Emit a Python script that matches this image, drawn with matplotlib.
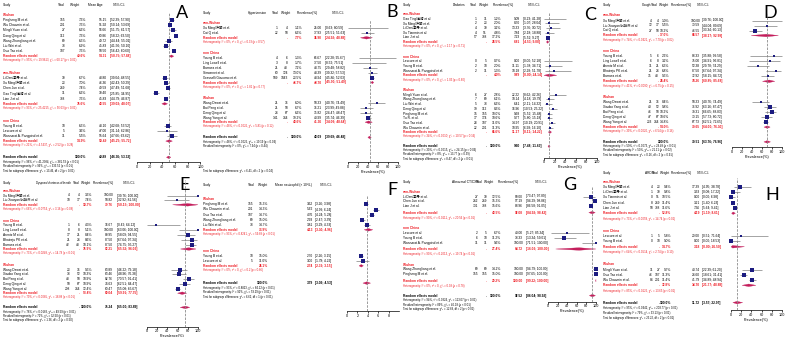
import matplotlib.pyplot as plt
from matplotlib.patches import Polygon

plt.rcParams['font.family'] = ['Liberation Sans', 'Noto Sans CJK SC', 'DejaVu Sans']

# ---- data: (study, events, total, weight %, estimate, lower, upper) ----
# A: mean age
A_GROUPS = ["Wuhan", "non-Wuhan", "non China"]
A_STUDIES = [
    [("Pingheng M et al.", None, 155, 7.3, 55.15, 52.39, 57.90),
     ("Wu Chaomin et al.", None, 201, 7.5, 51.92, 50.14, 53.69),
     ("Mingli Yuan et al.", None, 27, 6.6, 56.66, 51.75, 61.57),
     ("Dong Qing et al.", None, 112, 7.3, 60.86, 58.22, 63.50),
     ("Wang Zhongliang et al.", None, 69, 6.5, 49.72, 44.44, 55.01),
     ("Liu Wei et al.", None, 78, 6.9, 45.83, 41.56, 50.10),
     ("Guo Tao et al.", None, 187, 7.5, 58.50, 56.42, 60.60)],
    [("Li Dan/李丹 et al.", None, 30, 6.7, 43.80, 39.04, 48.55),
     ("Xu Ming/许明 et al.", None, 23, 7.0, 46.36, 42.43, 50.29),
     ("Chen Jun et al.", None, 249, 7.4, 49.59, 47.49, 51.68),
     ("Gao Ting/高婷 et al.", None, 11, 6.6, 30.40, 25.85, 34.95),
     ("Lian J et al.", None, 788, 7.5, 45.83, 44.79, 46.87)],
    [("Young B et al.", None, 18, 6.5, 48.10, 42.68, 53.52),
     ("Lescure et al.", None, 5, 3.6, 47.00, 31.14, 62.86),
     ("Wannarat A. Pongpirul et al.", None, 11, 5.5, 55.64, 47.66, 63.62)],
]
A_POOLED = [(49.6, 54.31, 50.75, 57.88), (35.6, 43.55, 39.03, 48.07), (14.9, 50.49, 45.25, 55.72)]
A_HET = ["Heterogeneity: I² = 95%, τ² = 19.9613, χ²₆ = 60.17 (p < 0.01)",
         "Heterogeneity: I² = 93%, τ² = 25.4215, χ²₄ = 56.63 (p < 0.01)",
         "Heterogeneity: I² = 21%, τ² = 4.5437, χ²₂ = 2.52 (p = 0.28)"]
A_OVERALL = (100.0, 49.89, 46.36, 53.33)
A_FOOT = ["Heterogeneity: I² = 96%, τ² = 41.2384, χ²₁₆ = 381.53 (p < 0.01)",
          "Residual heterogeneity: I² = 96%, χ²₁₄ = 333.52 (p < 0.01)",
          "Test for subgroup differences: χ²₂ = 13.46, df = 2 (p < 0.01)"]

# B: hypertension
B_GROUPS = ["non-Wuhan", "non China", "Wuhan"]
B_STUDIES = [
    [("Xu Ming/许明 et al.", 1, 4, 1.1, 25.00, 0.63, 80.59),
     ("Cai Q et al.", 22, 58, 6.6, 37.93, 25.51, 51.63)],
    [("Young B et al.", 4, 6, 1.3, 66.67, 22.28, 95.67),
     ("Ling Lowell et al.", 3, 8, 1.7, 37.50, 8.52, 75.51),
     ("Barrasa et al.", 21, 48, 7.2, 43.75, 29.48, 58.82),
     ("Simonnet et al.", 60, 124, 13.0, 48.39, 39.32, 57.53),
     ("Grasselli Giacomo et al.", 509, 1043, 23.5, 48.94, 45.86, 52.03)],
    [("Wang Dawei et al.", 21, 36, 6.0, 58.33, 40.76, 74.49),
     ("Bai Peng et al.", 21, 58, 6.7, 36.21, 23.99, 49.88),
     ("Deng Qing et al.", 24, 67, 6.6, 35.82, 24.47, 48.47),
     ("Wang Yang et al.", 141, 344, 19.2, 40.99, 35.74, 46.39)],
]
B_POOLED = [(7.7, 36.90, 24.92, 48.88), (46.7, 48.70, 45.90, 51.49), (43.6, 41.36, 34.09, 48.64)]
B_HET = ["Heterogeneity: I² = 0%, τ² = 0, χ²₁ = 0.33 (p = 0.57)",
         "Heterogeneity: I² = 0%, τ² = 0, χ²₄ = 1.81 (p = 0.77)",
         "Heterogeneity: I² = 48%, τ² = 0.0026, χ²₃ = 5.81 (p = 0.12)"]
B_OVERALL = (100.0, 43.09, 39.69, 46.48)
B_FOOT = ["Heterogeneity: I² = 48%, τ² = 0.0025, χ²₁₀ = 19.19 (p = 0.04)",
          "Residual heterogeneity: I² = 0%, χ²₈ = 7.94 (p = 0.44)",
          "Test for subgroup differences: χ²₂ = 6.41, df = 2 (p = 0.04)"]

# C: diabetes
C_GROUPS = ["non-Wuhan", "non China", "Wuhan"]
C_STUDIES = [
    [("Gao Ting/高婷 et al.", 1, 11, 1.2, 9.09, 0.23, 41.28),
     ("Xu Ming/许明 et al.", 2, 23, 2.0, 8.70, 1.07, 28.04),
     ("Li Dan/李丹 et al.", 4, 30, 3.2, 13.33, 3.76, 30.72),
     ("Xu Tianmin et al.", 4, 51, 4.8, 7.84, 2.18, 18.88),
     ("Lian J et al.", 57, 788, 17.2, 7.23, 5.52, 9.27)],
    [("Lescure et al.", 0, 5, 0.7, 0.00, 0.00, 52.18),
     ("Young B et al.", 2, 18, 2.0, 11.11, 1.38, 34.71),
     ("Wannarat A. Pongpirul et al.", 2, 11, 1.3, 18.18, 2.28, 51.78)],
    [("Mingli Yuan et al.", 6, 27, 2.8, 22.22, 8.62, 42.26),
     ("Wang Zhongliang et al.", 7, 69, 6.1, 10.14, 4.18, 19.79),
     ("Liu Wei et al.", 5, 78, 6.6, 6.41, 2.11, 14.32),
     ("Deng Qing et al.", 19, 112, 8.3, 16.96, 10.53, 25.22),
     ("Pingheng M et al.", 15, 155, 10.0, 9.68, 5.52, 15.48),
     ("Tu R. et al.", 17, 174, 10.6, 9.77, 5.80, 15.18),
     ("Guo Tao et al.", 28, 187, 11.0, 14.97, 10.19, 20.91),
     ("Wu Chaomin et al.", 22, 201, 11.3, 10.95, 6.98, 16.10)],
]
C_POOLED = [(28.5, 6.81, 4.53, 9.08), (4.0, 9.89, 0.00, 24.14), (66.6, 11.17, 8.11, 14.22)]
C_HET = ["Heterogeneity: I² = 0%, τ² = 0, χ²₄ = 2.17 (p = 0.71)",
         "Heterogeneity: I² = 0%, τ² = 0, χ²₂ = 1.03 (p = 0.60)",
         "Heterogeneity: I² = 34%, τ² = 0.0010, χ²₇ = 10.57 (p = 0.16)"]
C_OVERALL = (100.0, 9.60, 7.48, 11.63)
C_FOOT = ["Heterogeneity: I² = 30%, τ² = 0.0015, χ²₁₅ = 24.15 (p = 0.06)",
          "Residual heterogeneity: I² = 8%, χ²₁₃ = 13.77 (p = 0.39)",
          "Test for subgroup differences: χ²₂ = 8.47, df = 2 (p = 0.01)"]

# D: cough
D_GROUPS = ["non-Wuhan", "non China", "Wuhan"]
D_STUDIES = [
    [("Xu Ming/许明 et al.", 4, 4, 1.0, 100.00, 39.76, 100.00),
     ("Liu Xiaoyan/刘晓燕 et al.", 12, 17, 5.5, 70.59, 44.04, 89.69),
     ("Cai Q et al.", 27, 58, 10.2, 46.55, 33.34, 60.13)],
    [("Young B et al.", 5, 6, 2.6, 83.33, 35.88, 99.58),
     ("Ling Lowell et al.", 6, 8, 3.2, 75.00, 34.91, 96.81),
     ("Arentz M et al.", 11, 21, 6.3, 52.38, 29.78, 74.29),
     ("Bhatraju PK et al.", 21, 24, 6.8, 87.50, 67.64, 97.34),
     ("Barrasa et al.", 35, 48, 9.5, 72.92, 58.15, 84.72)],
    [("Wang Dawei et al.", 21, 36, 8.4, 58.33, 40.76, 74.49),
     ("Xiaobo Yang et al.", 40, 52, 9.8, 76.92, 63.16, 87.47),
     ("Bai Peng et al.", 46, 58, 10.2, 79.31, 66.65, 88.83),
     ("Deng Qing et al.", 47, 67, 10.6, 70.15, 57.73, 80.72),
     ("Wang Yang et al.", 233, 344, 14.8, 67.73, 62.51, 72.65)],
]
D_POOLED = [(17.0, 68.57, 38.17, 92.99), (28.4, 74.26, 60.85, 85.68), (54.0, 70.65, 64.00, 76.30)]
D_HET = ["Heterogeneity: I² = 74%, τ² = 0.0421, χ²₂ = 7.70 (p = 0.02)",
         "Heterogeneity: I² = 41%, τ² = 0.0090, χ²₄ = 6.75 (p = 0.15)",
         "Heterogeneity: I² = 39%, τ² = 0.0020, χ²₄ = 6.54 (p = 0.16)"]
D_OVERALL = (100.0, 70.51, 63.76, 76.96)
D_FOOT = ["Heterogeneity: I² = 59%, τ² = 0.0073, χ²₁₂ = 29.49 (p < 0.01)",
          "Residual heterogeneity: I² = 50%, χ²₁₀ = 21.11 (p = 0.02)",
          "Test for subgroup differences: χ²₂ = 0.16, df = 2 (p = 0.91)"]

# E: dyspnea
E_GROUPS = ["non-Wuhan", "non China", "Wuhan"]
E_STUDIES = [
    [("Xu Ming/许明 et al.", 4, 4, 3.3, 100.00, 39.76, 100.00),
     ("Liu Xiaoyan/刘晓燕 et al.", 10, 17, 7.4, 58.82, 32.92, 81.56)],
    [("Young B et al.", 1, 6, 4.3, 16.67, 0.42, 64.12),
     ("Ling Lowell et al.", 8, 8, 5.1, 100.00, 63.06, 100.00),
     ("Arentz M et al.", 17, 21, 8.4, 80.95, 58.09, 94.55),
     ("Bhatraju PK et al.", 21, 24, 8.6, 87.50, 67.64, 97.34),
     ("Barrasa et al.", 42, 48, 10.1, 87.50, 74.75, 95.27)],
    [("Wang Dawei et al.", 23, 36, 9.5, 63.89, 46.22, 79.18),
     ("Xiaobo Yang et al.", 33, 52, 10.3, 63.46, 48.96, 76.38),
     ("Bai Peng et al.", 48, 58, 10.9, 82.76, 70.57, 91.41),
     ("Deng Qing et al.", 50, 67, 10.9, 74.63, 62.51, 84.47),
     ("Wang Yang et al.", 208, 344, 12.4, 60.47, 55.08, 65.67)],
]
E_POOLED = [(10.7, 79.76, 50.15, 100.00), (35.9, 82.21, 65.52, 96.03), (53.4, 69.04, 59.91, 77.75)]
E_HET = ["Heterogeneity: I² = 66%, τ² = 0.0754, χ²₁ = 3.16 (p = 0.08)",
         "Heterogeneity: I² = 73%, τ² = 0.0249, χ²₄ = 14.78 (p < 0.01)",
         "Heterogeneity: I² = 79%, τ² = 0.0065, χ²₄ = 18.88 (p < 0.01)"]
E_OVERALL = (100.0, 75.24, 65.00, 83.89)
E_FOOT = ["Heterogeneity: I² = 78%, τ² = 0.0183, χ²₁₁ = 49.59 (p < 0.01)",
          "Residual heterogeneity: I² = 72%, χ²₉ = 32.50 (p < 0.01)",
          "Test for subgroup differences: χ²₂ = 1.36, df = 2 (p = 0.50)"]

# F: neutrophil
F_GROUPS = ["Wuhan", "non China"]
F_STUDIES = [
    [("Pingheng M et al.", None, 155, 15.3, 3.62, 3.26, 3.98),
     ("Wu Chaomin et al.", None, 201, 14.3, 5.62, 4.99, 6.24),
     ("Guo Tao et al.", None, 187, 14.7, 4.76, 4.24, 5.28),
     ("Wang Zhongliang et al.", None, 69, 15.0, 2.93, 2.47, 3.39),
     ("Liu Wei et al.", None, 78, 14.7, 3.81, 3.29, 4.33)],
    [("Young B et al.", None, 18, 15.0, 2.70, 2.26, 3.15),
     ("Lescure et al.", None, 5, 11.0, 3.00, 1.78, 4.22)],
]
F_POOLED = [(73.9, 4.13, 3.30, 4.96), (26.1, 2.74, 2.32, 3.15)]
F_HET = ["Heterogeneity: I² = 93%, τ² = 0.8241, χ²₄ = 59.89 (p < 0.01)",
         "Heterogeneity: I² = 0%, τ² = 0, χ²₁ = 0.2 (p = 0.66)"]
F_OVERALL = (100.0, 3.79, 3.06, 4.53)
F_FOOT = ["Heterogeneity: I² = 93%, τ² = 0.8823, χ²₆ = 84.12 (p < 0.01)",
          "Residual heterogeneity: I² = 92%, χ²₅ = 59.29 (p < 0.01)",
          "Test for subgroup differences: χ²₁ = 6.62, df = 1 (p < 0.01)"]

# G: abnormal CT/CXR
G_GROUPS = ["non-Wuhan", "non China", "Wuhan"]
G_STUDIES = [
    [("Li Dan/李丹 et al.", 27, 30, 12.5, 90.00, 73.47, 97.89),
     ("Chen Jun et al.", 242, 249, 15.3, 97.19, 94.29, 98.86),
     ("Lian J et al.", 701, 788, 15.6, 88.96, 86.58, 91.05)],
    [("Lescure et al.", 2, 5, 6.7, 40.00, 5.27, 85.34),
     ("Young B et al.", 6, 18, 11.2, 33.33, 13.34, 59.01),
     ("Wannarat A. Pongpirul et al.", 11, 11, 9.6, 100.00, 71.51, 100.00)],
    [("Wang Zhongliang et al.", 69, 69, 14.2, 100.00, 94.79, 100.00),
     ("Pingheng M et al.", 155, 155, 15.0, 100.00, 97.65, 100.00)],
]
G_POOLED = [(43.5, 92.08, 84.93, 98.43), (27.4, 64.72, 16.03, 100.00), (29.2, 100.00, 99.22, 100.00)]
G_HET = ["Heterogeneity: I² = 90%, τ² = 0.0111, χ²₂ = 20.56 (p < 0.01)",
         "Heterogeneity: I² = 90%, τ² = 0.2013, χ²₂ = 19.74 (p < 0.01)",
         "Heterogeneity: I² = 0%, τ² = 0, χ²₁ = 0.08 (p = 0.78)"]
G_OVERALL = (100.0, 92.52, 86.04, 98.92)
G_FOOT = ["Heterogeneity: I² = 94%, τ² = 0.0324, χ²₇ = 113.07 (p < 0.01)",
          "Residual heterogeneity: I² = 89%, χ²₅ = 40.18 (p < 0.01)",
          "Test for subgroup differences: χ²₂ = 12.69, df = 2 (p < 0.01)"]

# H: ARDS
H_GROUPS = ["non-Wuhan", "non China", "Wuhan"]
H_STUDIES = [
    [("Xu Ming/许明 et al.", 4, 23, 9.4, 17.39, 4.95, 38.78),
     ("Li Dan/李丹 et al.", 1, 30, 9.8, 3.33, 0.08, 17.22),
     ("Xu Tianmin et al.", 0, 51, 10.5, 0.00, 0.00, 6.98),
     ("Chen Jun et al.", 8, 249, 11.4, 3.21, 1.40, 6.23),
     ("Lian J et al.", 58, 788, 11.6, 7.36, 5.64, 9.41)],
    [("Lescure et al.", 1, 5, 5.8, 20.00, 0.51, 71.64),
     ("Young B et al.", 0, 18, 9.0, 0.00, 0.00, 18.53)],
    [("Mingli Yuan et al.", 11, 27, 9.7, 40.74, 22.39, 61.20),
     ("Guo Tao et al.", 46, 187, 11.3, 24.60, 18.61, 31.41),
     ("Wu Chaomin et al.", 84, 201, 11.4, 41.79, 34.89, 48.94)],
]
H_POOLED = [(52.8, 4.19, 1.19, 8.61), (14.7, 3.18, 0.00, 26.50), (32.8, 34.70, 21.77, 48.88)]
H_HET = ["Heterogeneity: I² = 73%, τ² = 0.0059, χ²₄ = 14.74 (p = 0.01)",
         "Heterogeneity: I² = 64%, τ² = 0.0514, χ²₁ = 2.74 (p = 0.10)",
         "Heterogeneity: I² = 85%, τ² = 0.0125, χ²₂ = 13.65 (p < 0.01)"]
H_OVERALL = (100.0, 11.72, 3.57, 22.97)
H_FOOT = ["Heterogeneity: I² = 95%, τ² = 0.0442, χ²₁₀ = 203.77 (p < 0.01)",
          "Residual heterogeneity: I² = 79%, χ²₇ = 33.13 (p < 0.01)",
          "Test for subgroup differences: χ²₂ = 23.22, df = 2 (p < 0.01)"]

PREV_TICKS = [0, 20, 40, 60, 80, 100]
NEUT_TICKS = [0, 2, 4, 6, 8]

# ---- style ----
W, H = 787, 337
RED = '#ee1c24'
NAVY = '#1c1c80'
CIGRAY = '#808080'
DIA = '#c41e5c'
FS = 2.3
FS2 = 1.95

fig = plt.figure(figsize=(W / 100, H / 100), dpi=100)
tx = fig.add_axes([0, 0, 1, 1])
tx.set_xlim(0, W)
tx.set_ylim(H, 0)
tx.axis('off')


def put(x, y, s, ha='left', **kw):
    kw.setdefault('fontsize', FS)
    tx.text(x, y, s, ha=ha, va='center', **kw)


def draw_panel(groups, studies, pooled, het, overall, foot, cols, heads, lay, plot, letter):
    xs, xe, xn, xw, xest, xci = cols
    put(xs, lay['header'], 'Study')
    for h in heads:
        put(h[1], lay['header'], h[0], fontsize=h[2] if len(h) > 2 else FS)

    rows, dias = [], []
    y = lay['g1']
    y_het = None
    for gi, g in enumerate(groups):
        if gi > 0:
            y = y_het + lay['gap']
        put(xs, y, g, color=RED, fontweight='bold')
        for name, ev, n, w, est, lo, hi in studies[gi]:
            y += lay['dy']
            put(xs, y, name)
            if ev is not None:
                put(xe, y, str(ev), ha='right')
            put(xn, y, str(n), ha='right')
            put(xw, y, f'{w:.1f}%', ha='right')
            put(xest, y, f'{est:.2f}', ha='right')
            put(xci, y, f'[{lo:.2f}; {hi:.2f}]')
            rows.append((y, w, est, lo, hi))
        y += lay['pdy']
        w, est, lo, hi = pooled[gi]
        put(xs, y, 'Random effects model', color=RED, fontweight='bold')
        if xe is not None:
            put(xn, y, '.', ha='right', color=RED, fontweight='bold')
        put(xw, y, f'{w:.1f}%', ha='right', color=RED, fontweight='bold')
        put(xest, y, f'{est:.2f}', ha='right', color=RED, fontweight='bold')
        put(xci, y, f'[{lo:.2f}; {hi:.2f}]', color=RED, fontweight='bold')
        dias.append((y, est, lo, hi))
        y_het = y + lay['hdy']
        put(xs, y_het, het[gi], color=RED, fontsize=FS2)

    y = y_het + lay['ogap']
    w, est, lo, hi = overall
    put(xs, y, 'Random effects model', fontweight='bold')
    if xe is not None:
        put(xn, y, '.', ha='right', fontweight='bold')
    put(xw, y, f'{w:.1f}%', ha='right', fontweight='bold')
    put(xest, y, f'{est:.2f}', ha='right', fontweight='bold')
    put(xci, y, f'[{lo:.2f}; {hi:.2f}]', fontweight='bold')
    dias.append((y, est, lo, hi))
    fy = lay.get('foot_y')
    for k, line in enumerate(foot):
        yy = fy[k] if fy else y + lay['fdy'] * (k + 1)
        put(xs, yy, line, fontsize=FS2)

    # forest plot part
    left, right, top, base = plot['left'], plot['right'], plot['top'], plot['axis_y']
    ax = fig.add_axes([left / W, 1 - base / H, (right - left) / W, (base - top) / H])
    ax.set_xlim(*plot['xlim'])
    ax.set_ylim(base, top)
    ax.patch.set_alpha(0)
    for s in ['top', 'right', 'left']:
        ax.spines[s].set_visible(False)
    ax.spines['bottom'].set_linewidth(0.5)
    ax.set_yticks([])
    ax.set_xticks(plot['ticks'])
    ax.tick_params(axis='x', length=1.4, width=0.5, pad=0.6, labelsize=2.7)
    ax.axvline(plot.get('ref', overall[1]), color='#8c8c8c', lw=0.6, ls=(0, (3, 1.5)))
    wmax = max(r[1] for r in rows)
    for yy, w, est, lo, hi in rows:
        ax.plot([lo, hi], [yy, yy], color=CIGRAY, lw=0.5, solid_capstyle='butt', clip_on=False)
        side = 3.7 * (w / wmax) ** 0.5 * 0.72
        ax.scatter([est], [yy], marker='s', s=side ** 2, color=NAVY, lw=0, zorder=3, clip_on=False)
    for yy, est, lo, hi in dias:
        ax.add_patch(Polygon([(lo, yy), (est, yy - 1.3), (hi, yy), (est, yy + 1.3)],
                             closed=True, facecolor=DIA, edgecolor=DIA, lw=0.2, clip_on=False))
    if plot.get('xlabel'):
        ax.set_xlabel(plot['xlabel'], fontsize=2.7, labelpad=0.8)

    tx.text(letter[1], letter[2], letter[0], fontsize=13, ha='center', va='center', family='Lato')


draw_panel(A_GROUPS, A_STUDIES, A_POOLED, A_HET, A_OVERALL, A_FOOT,
           (3, None, 65, 86, 107, 110),
           [('Total', 58), ('Weight', 70), ('Mean Age', 88), ('95% C.I.', 113)],
           dict(header=5, g1=15, dy=5.15, pdy=5.15, hdy=4.2, gap=12.5, ogap=12, fdy=4.5),
           dict(left=137, right=200.5, top=12, axis_y=162, xlim=(0, 100), ticks=PREV_TICKS),
           ('A', 182, 13))

draw_panel(B_GROUPS, B_STUDIES, B_POOLED, B_HET, B_OVERALL, B_FOOT,
           (203, 278, 288, 302, 322, 325),
           [('Hypertension', 248), ('Total', 272), ('Weight', 281), ('Prevalence(%)', 297), ('95% C.I.', 332)],
           dict(header=13.3, g1=23.3, dy=5, pdy=4.5, hdy=4.2, gap=11, ogap=11,
                foot_y=[141.9, 146.4, 171]),
           dict(left=348, right=398, top=20, axis_y=162, xlim=(0, 100), ticks=PREV_TICKS,
                xlabel='Prevalence(%)'),
           ('B', 392, 12))

draw_panel(C_GROUPS, C_STUDIES, C_POOLED, C_HET, C_OVERALL, C_FOOT,
           (403, 477, 487, 501, 520, 523),
           [('Diabetes', 453), ('Total', 470), ('Weight', 479), ('Prevalence(%)', 493), ('95% C.I.', 528)],
           dict(header=5, g1=14, dy=4.7, pdy=4.5, hdy=4.2, gap=10.5, ogap=10, fdy=4.1),
           dict(left=544, right=597, top=13, axis_y=157.5, xlim=(0, 100), ticks=PREV_TICKS,
                xlabel='Prevalence(%)'),
           ('C', 590, 15))

draw_panel(D_GROUPS, D_STUDIES, D_POOLED, D_HET, D_OVERALL, D_FOOT,
           (603, 652, 659, 669, 700, 702),
           [('Cough', 642), ('Total', 651), ('Weight', 659), ('Prevalence(%)', 671), ('95% C.I.', 697)],
           dict(header=5, g1=15.5, dy=5, pdy=5, hdy=4.3, gap=11.5, ogap=10.5, fdy=4.3),
           dict(left=732, right=782, top=13, axis_y=147, xlim=(0, 100), ticks=PREV_TICKS,
                xlabel='Prevalence(%)'),
           ('D', 770, 13))

draw_panel(E_GROUPS, E_STUDIES, E_POOLED, E_HET, E_OVERALL, E_FOOT,
           (3, 70, 80, 92, 113, 117),
           [('Dyspnea/shortness of breath', 36, 1.95), ('Total', 73), ('Weight', 81), ('Prevalence(%)', 93),
            ('95% C.I.', 123)],
           dict(header=183.3, g1=190.7, dy=4.8, pdy=4.5, hdy=4.2, gap=11.5, ogap=10, fdy=4.3),
           dict(left=147, right=198, top=180, axis_y=326.5, xlim=(0, 100), ticks=PREV_TICKS,
                xlabel='Prevalence(%)'),
           ('E', 185, 185))

draw_panel(F_GROUPS, F_STUDIES, F_POOLED, F_HET, F_OVERALL, F_FOOT,
           (203, None, 253, 268, 313, 315),
           [('Total', 248), ('Weight', 258), ('Mean neutrophil (× 10⁹/L)', 275), ('95% C.I.', 320)],
           dict(header=185, g1=199.3, dy=5.1, pdy=5, hdy=4.3, gap=16.5, ogap=13, fdy=4.6),
           dict(left=347, right=399, top=195, axis_y=311, xlim=(0, 10), ticks=NEUT_TICKS),
           ('F', 392, 190))

draw_panel(G_GROUPS, G_STUDIES, G_POOLED, G_HET, G_OVERALL, G_FOOT,
           (403, 478, 487, 501, 523, 526),
           [('Abnormal CT/CXR', 452), ('Total', 476), ('Weight', 484), ('Prevalence(%)', 498), ('95% C.I.', 535)],
           dict(header=182.3, g1=191.7, dy=4.8, pdy=6.5, hdy=5, gap=10.5, ogap=10, fdy=4.5),
           dict(left=548, right=596, top=187, axis_y=301.5, xlim=(0, 100), ticks=PREV_TICKS,
                xlabel='Prevalence(%)'),
           ('G', 570, 185))

draw_panel(H_GROUPS, H_STUDIES, H_POOLED, H_HET, H_OVERALL, H_FOOT,
           (603, 653, 660, 671, 700, 702),
           [('ARDS', 645), ('Total', 652), ('Weight', 660), ('Prevalence(%)', 671), ('95% C.I.', 697)],
           dict(header=173.3, g1=182.3, dy=5.05, pdy=5.7, hdy=5.7, gap=12, ogap=11.6, fdy=5),
           dict(left=731, right=782, top=178, axis_y=310, xlim=(0, 100), ticks=PREV_TICKS,
                xlabel='Prevalence(%)'),
           ('H', 772, 195))

fig.savefig('out.png', dpi=100)
